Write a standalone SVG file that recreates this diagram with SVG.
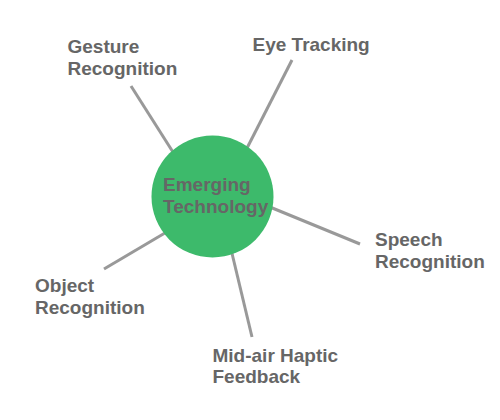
<svg xmlns="http://www.w3.org/2000/svg" width="500" height="420" viewBox="0 0 500 420">
<style>
.t{font-family:"Liberation Sans",Arial,sans-serif;font-weight:bold;font-size:19px;fill:#666}
.c{stroke:#999;stroke-width:3;fill:none;stroke-linecap:butt}
</style>
<rect width="500" height="420" fill="#fff"/>
<g id="connectors">
<line class="c" x1="131" y1="86" x2="178" y2="160"/>
<line class="c" x1="292" y1="60" x2="244" y2="154"/>
<line class="c" x1="360" y1="244" x2="265" y2="205"/>
<line class="c" x1="104" y1="269" x2="170" y2="230"/>
<line class="c" x1="252" y1="337" x2="230" y2="245"/>
</g>
<g id="center">
<circle cx="212.5" cy="196.5" r="61" fill="#3dba6b"/>
<text class="t" x="163" y="190.5">Emerging</text>
<text class="t" x="163" y="212.5">Technology</text>
</g>
<g id="gesture"><text class="t" x="67.5" y="52.5">Gesture</text><text class="t" x="67.5" y="74.5">Recognition</text></g>
<g id="eye"><text class="t" x="252.5" y="51">Eye Tracking</text></g>
<g id="speech"><text class="t" x="375" y="246">Speech</text><text class="t" x="375" y="268">Recognition</text></g>
<g id="object"><text class="t" x="35" y="291.5">Object</text><text class="t" x="35" y="313.5">Recognition</text></g>
<g id="haptic"><text class="t" x="212.5" y="361.5">Mid-air Haptic</text><text class="t" x="212.5" y="383">Feedback</text></g>
</svg>
